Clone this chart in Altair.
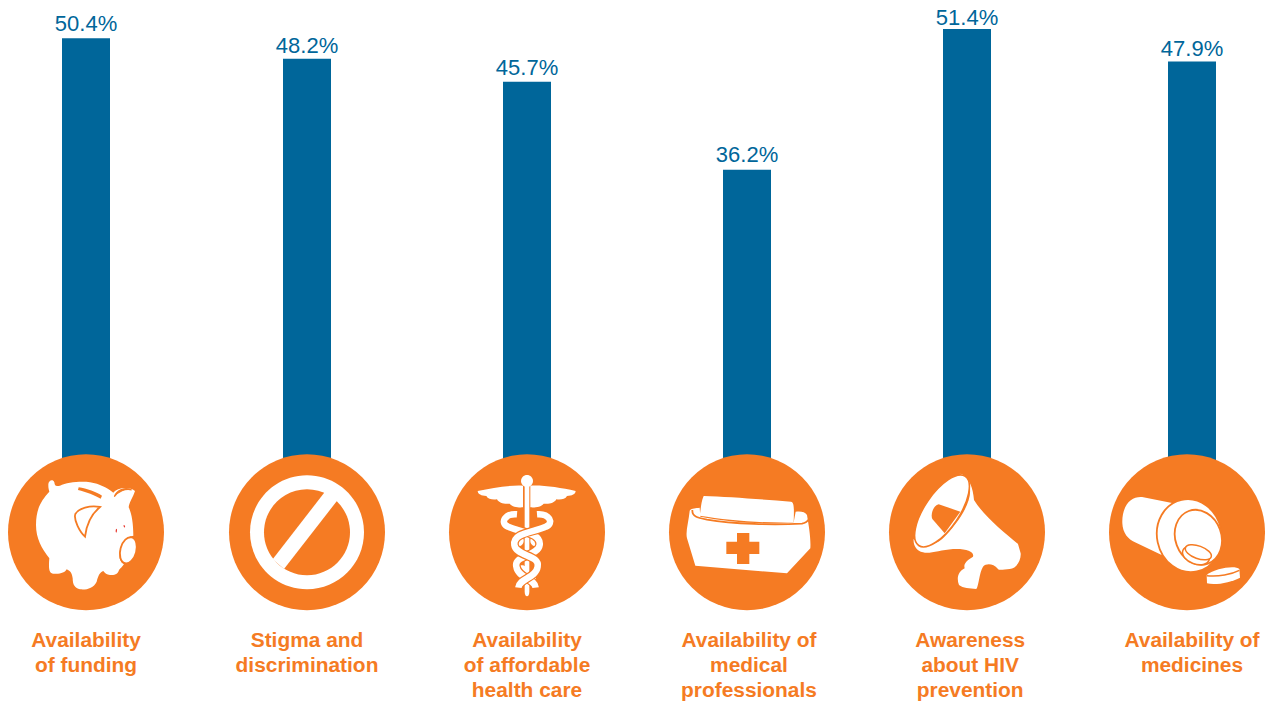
import re, math
import altair as alt
import pandas as pd

categories = ["Availability\nof funding", "Stigma and\ndiscrimination", "Availability\nof affordable\nhealth care",
              "Availability of\nmedical\nprofessionals", "Awareness\nabout HIV\nprevention", "Availability of\nmedicines"]
values = [50.4, 48.2, 45.7, 36.2, 51.4, 47.9]
label_nudge = [0, 0, 0, 0.009, 0.014, 0]
disc_nudge = [0, 0, 0, 0, 0, -0.0222]
label_lift = [0.2, 0, 0.1, 0.2, -0.2, 0]
BLUE = "#00669a"
ORANGE = "#f57b23"
WHITE = "#ffffff"
NONE = "transparent"
RED = "#e8392f"

def norm(d, cx, cy):
    it = iter([0, 1] * 1000)
    def rep(m):
        v = float(m.group(0))
        return f"{(v - cx) / 234 if next(it) == 0 else (v - cy) / 234:.4f}"
    return re.sub(r"-?\d+\.?\d*", rep, d)

def ell(cx, cy, rx, ry, rot=0):
    k = 0.5523
    a = math.radians(rot)
    def p(x, y):
        return f"{cx + x * math.cos(a) - y * math.sin(a):.2f},{cy + x * math.sin(a) + y * math.cos(a):.2f}"
    return (f"M {p(rx, 0)} C {p(rx, k * ry)} {p(k * rx, ry)} {p(0, ry)} "
            f"C {p(-k * rx, ry)} {p(-rx, k * ry)} {p(-rx, 0)} "
            f"C {p(-rx, -k * ry)} {p(-k * rx, -ry)} {p(0, -ry)} "
            f"C {p(k * rx, -ry)} {p(rx, -k * ry)} {p(rx, 0)} Z")

def mirror(d, axis):
    it = iter([0, 1] * 1000)
    def rep(m):
        v = float(m.group(0))
        return f"{2 * axis - v:.2f}" if next(it) == 0 else m.group(0)
    return re.sub(r"-?\d+\.?\d*", rep, d)

pig = [
    ("M 145,118 C 145,108 158,100 163,112 C 165,122 165,125 180,122 C 200,113 240,108 270,112 C 300,117 320,128 340,143 "
     "C 350,130 385,122 405,138 C 400,155 388,170 386,187 C 395,205 400,235 400,272 C 375,275 358,300 358,330 "
     "C 358,345 365,355 372,357 C 368,365 360,370 357,375 C 355,385 345,392 330,390 C 320,388 315,385 310,378 "
     "C 300,382 295,390 290,410 C 280,430 260,435 240,433 C 225,430 218,420 218,400 C 216,385 212,378 200,373 "
     "C 195,383 180,388 160,386 C 148,384 145,375 148,340 C 125,310 108,280 108,240 C 108,190 125,165 148,140 "
     "C 145,130 145,125 145,118 Z", WHITE, NONE, 0),
    ("M 236,127 C 260,131 290,141 306,152 L 302,161 C 285,151 258,141 234,135 Z", ORANGE, NONE, 0),
    ("M 343,155 C 350,135 375,125 395,135 C 375,130 355,140 343,155 Z", ORANGE, ORANGE, 1.2),
    ("M 300,186 C 270,180 235,190 226,207 C 220,225 240,262 255,275 C 258,250 265,215 300,186 Z", WHITE, ORANGE, 1.8),
    (ell(385, 316, 24, 40, 15), WHITE, ORANGE, 1.8),
    (ell(349, 257, 2, 6, 5), RED, NONE, 0),
    (ell(373, 244, 2, 4, -20), RED, NONE, 0),
]
stop = [
    (ell(920, 262, 171, 171), WHITE, NONE, 0),
    (ell(920, 262, 129, 129), ORANGE, NONE, 0),
    ("M 978,135 L 1012,165 L 851,372 L 817,343 Z", WHITE, NONE, 0),
]
left_wing = ("M 250,122 C 210,120 160,128 114,138 C 115,148 125,152 140,153 C 145,163 160,165 172,163 "
             "C 178,175 195,178 210,176 C 218,186 235,188 250,187 Z")
strand = ("M 232,208 C 195,205 180,235 205,245 C 240,262 305,262 300,300 C 295,335 222,330 230,365 "
          "C 235,400 285,400 288,428")
caduceus = [
    (ell(262, 108, 18, 18), WHITE, NONE, 0),
    ("M 255,110 L 269,110 L 269,440 C 269,458 255,458 255,440 Z", WHITE, NONE, 0),
    (left_wing, WHITE, NONE, 0),
    (mirror(left_wing, 261), WHITE, NONE, 0),
    (ell(235, 287, 17, 17), WHITE, NONE, 0),
    (ell(289, 287, 17, 17), WHITE, NONE, 0),
    (ell(247, 375, 14, 14), WHITE, NONE, 0),
    (ell(277, 403, 12, 12), WHITE, NONE, 0),
    (strand, NONE, ORANGE, 9),
    (strand, NONE, WHITE, 6.5),
    (mirror(strand, 262), NONE, ORANGE, 9),
    (mirror(strand, 262), NONE, WHITE, 6.5),
]
kit = [
    ("M 748,198 C 745,230 735,260 740,280 L 765,362 L 1040,385 L 1110,310 C 1112,280 1105,240 1100,210 "
     "C 1095,200 1080,198 1066,200 L 1060,232 C 960,240 860,230 780,215 L 778,188 C 765,190 750,190 748,198 Z", WHITE, NONE, 0),
    ("M 756,195 C 755,215 770,218 800,224 C 880,238 1000,240 1085,236 C 1098,234 1104,226 1108,220", NONE, ORANGE, 1.8),
    ("M 790,153 C 860,155 960,163 1052,170 C 1060,172 1062,180 1060,232 C 960,235 860,225 778,212 C 782,190 782,170 790,153 Z",
     WHITE, NONE, 0),
    ("M 890,264 L 927,264 L 927,290 L 957,290 L 957,327 L 927,327 L 927,357 L 890,357 L 890,327 L 858,327 L 858,290 L 890,290 Z",
     ORANGE, NONE, 0),
]
megaphone = [
    ("M 258,85 C 290,95 300,130 303,165 C 330,210 390,260 435,297 L 443,325 C 445,345 430,372 410,372 C 395,372 380,378 375,372 "
     "C 360,355 340,355 330,365 C 318,385 318,420 310,432 C 290,430 270,430 258,420 C 250,400 255,380 275,370 "
     "C 272,360 275,350 300,335 C 305,320 280,310 240,312 C 200,315 170,328 150,322 C 130,318 120,300 122,282 "
     "C 150,310 190,300 210,280 C 255,235 300,170 290,125 C 285,105 270,90 258,85 Z", WHITE, NONE, 0),
    (ell(207, 198, 52, 125, 34), WHITE, ORANGE, 1.6),
    ("M 197,178 L 262,200 L 215,265 L 178,222 C 172,210 180,182 197,178 Z", ORANGE, NONE, 0),
]
pills = [
    ("M 825,157 C 790,152 760,180 762,235 C 763,265 780,283 800,292 L 880,330 L 915,175 Z", WHITE, NONE, 0),
    (ell(963, 272, 97, 110, -12), WHITE, ORANGE, 1.8),
    (ell(990, 277, 69, 84, -20), WHITE, ORANGE, 1.8),
    (ell(983, 331, 42, 26, 20), WHITE, ORANGE, 1.5),
    (ell(990, 322, 41, 19, 20), WHITE, ORANGE, 1.5),
    ("M 1015,390 C 1040,370 1100,360 1113,372 L 1115,398 C 1090,412 1040,422 1016,415 Z", WHITE, NONE, 0),
    ("M 1015,392 C 1050,396 1090,388 1113,376", NONE, ORANGE, 1.5),
]
icons = [(pig, 258, 262), (stop, 920, 262), (caduceus, 262, 262), (kit, 920, 262), (megaphone, 282, 262), (pills, 956, 262)]

base = pd.DataFrame({"pos": range(6), "value": values, "cat": categories, "label": [f"{v}%" for v in values],
                     "lpos": [i + n for i, n in enumerate(label_nudge)],
                     "dpos": [i + n for i, n in enumerate(disc_nudge)],
                     "lval": [v + n for v, n in zip(values, label_lift)]})
rows = []
for i, (parts, cx, cy) in enumerate(icons):
    for d, fill, stroke, sw in parts:
        rows.append({"dpos": i + disc_nudge[i], "path": norm(d, cx, cy), "fill": fill, "stroke": stroke, "sw": sw})
parts_df = pd.DataFrame(rows)

xscale = alt.Scale(domain=[0, 1, 2, 3, 4, 5], range=[78, 299, 519, 739, 959, 1184], padding=0)
yscale = alt.Scale(domain=[0, 53.67], range=[497, 0], nice=False)
xs = alt.X("pos:Q", axis=None, scale=xscale)
xd = alt.X("dpos:Q", axis=None, scale=xscale)
ys = alt.Y("value:Q", axis=None, stack=None, scale=yscale)
SIZE = 156 ** 2

bars = alt.Chart(base).mark_bar(size=48, orient="vertical", color=BLUE).encode(x=xs, y=ys)
value_text = alt.Chart(base).mark_text(font="Liberation Sans", fontSize=22, color=BLUE, baseline="alphabetic",
                                       align="center", dy=-5.7).encode(
    x=xs, y=alt.Y("lval:Q", axis=None, stack=None, scale=yscale), text="label:N")
discs = alt.Chart(base).mark_point(shape="circle", filled=True, opacity=1, color=ORANGE).encode(
    x=xd, y=alt.value(524.3), size=alt.value(SIZE))
glyphs = alt.Chart(parts_df).mark_point(filled=True, opacity=1).encode(
    x=xd, y=alt.value(524.3), size=alt.value(SIZE),
    shape=alt.Shape("path:N", scale=None, legend=None),
    fill=alt.Fill("fill:N", scale=None, legend=None),
    stroke=alt.Stroke("stroke:N", scale=None, legend=None),
    strokeWidth=alt.StrokeWidth("sw:Q", scale=None, legend=None),
    order=alt.value(0),
)
names = alt.Chart(base).mark_text(font="Liberation Sans", fontWeight="bold", fontSize=20.9, color=ORANGE,
                                  baseline="alphabetic", align="center", lineBreak="\n", lineHeight=25.4).encode(
    x=alt.X("lpos:Q", axis=None, scale=xscale), y=alt.value(638.7), text="cat:N")

chart = alt.layer(bars, discs, glyphs, value_text, names).properties(
    width=1257, height=700, padding=0, autosize=alt.AutoSizeParams(type="none")
).configure_view(stroke=None)
chart.save("out.html", embed_options={"renderer": "svg", "actions": False})
